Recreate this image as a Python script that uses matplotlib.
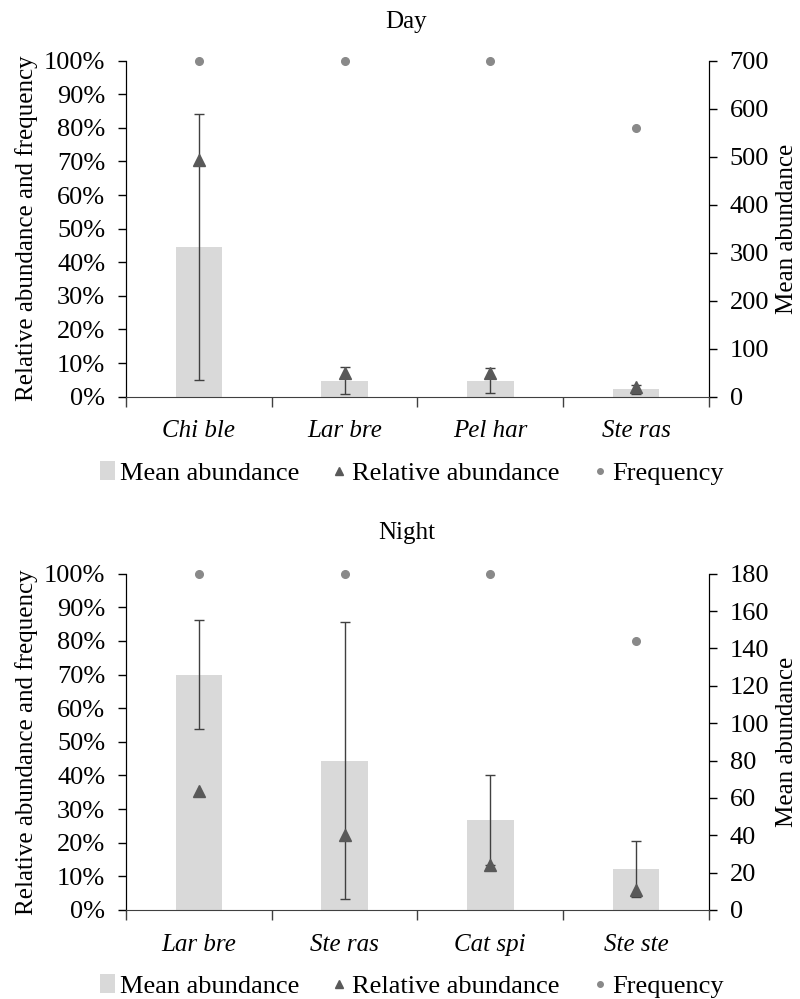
import matplotlib
matplotlib.use("Agg")
import matplotlib.pyplot as plt
from matplotlib.patches import Patch
from matplotlib.lines import Line2D
from matplotlib.ticker import PercentFormatter, MultipleLocator, FixedLocator
import numpy as np

plt.rcParams['font.family'] = ['Liberation Serif', 'DejaVu Serif']
plt.rcParams['font.size'] = 18

# Day panel
day_species = ['Chi ble', 'Lar bre', 'Pel har', 'Ste ras']
day_mean = [311, 33, 33, 15]
day_sd = [277, 28, 26, 10]
day_rel = [70.4, 7.1, 7.0, 3.0]
day_freq = [100, 100, 100, 80]

# Night panel
night_species = ['Lar bre', 'Ste ras', 'Cat spi', 'Ste ste']
night_mean = [126, 80, 48, 22]
night_sd = [29, 74, 24, 15]
night_rel = [35.5, 22.4, 13.3, 5.9]
night_freq = [100, 100, 100, 80]

BAR_C = '#d9d9d9'
TRI_C = '#595959'
DOT_C = '#898989'
ERR_C = '#404040'


def panel(rect, title, species, mean, sd, rel, freq, ymax2, step2, title_y, leg_y):
    ax = fig.add_axes(rect)
    ax2 = ax.twinx()
    ax.set_zorder(ax2.get_zorder() + 1)
    ax.patch.set_visible(False)

    x = np.arange(len(species))
    ax2.bar(x, mean, width=0.32, color=BAR_C, zorder=1)
    ax2.errorbar(x, mean, yerr=sd, fmt='none', ecolor=ERR_C, elinewidth=1,
                 capsize=3.5, capthick=1, zorder=2)
    ax.plot(x, rel, linestyle='none', marker='^', color=TRI_C, markersize=8,
            zorder=3, clip_on=False)
    ax.plot(x, freq, linestyle='none', marker='o', color=DOT_C, markersize=5.5,
            zorder=4, clip_on=False)

    ax.set_xlim(-0.5, len(species) - 0.5)
    ax.set_ylim(0, 100)
    ax.yaxis.set_major_locator(MultipleLocator(10))
    ax.yaxis.set_major_formatter(PercentFormatter(decimals=0))
    ax2.set_ylim(0, ymax2)
    ax2.yaxis.set_major_locator(MultipleLocator(step2))

    ax.set_xticks(x)
    ax.set_xticklabels(species, fontstyle='italic', fontsize=18)
    ax.xaxis.set_minor_locator(FixedLocator(np.arange(len(species) + 1) - 0.5))
    ax.tick_params(axis='x', which='major', length=0, pad=17)
    ax.tick_params(axis='x', which='minor', length=7, width=1, color=ERR_C, direction='out')
    ax.tick_params(axis='y', length=6, width=1, direction='out', pad=9, labelsize=19)
    ax2.tick_params(axis='y', length=6, width=1, direction='out', pad=9, labelsize=19)

    for a in (ax, ax2):
        a.spines['top'].set_visible(False)
    ax.spines['bottom'].set_color(ERR_C)
    ax2.spines['bottom'].set_visible(False)

    ax.set_ylabel('Relative abundance and frequency', labelpad=4)
    ax2.set_ylabel('Mean abundance', labelpad=5)

    fig.text(0.508, title_y, title, ha='center', va='center', fontsize=18)

    handles = [
        Patch(facecolor=BAR_C, edgecolor='none'),
        Line2D([], [], linestyle='none', marker='^', color=TRI_C, markersize=6),
        Line2D([], [], linestyle='none', marker='o', color=DOT_C, markersize=4),
    ]
    fig.legend(handles, ['Mean abundance', 'Relative abundance', 'Frequency'],
               loc='center', bbox_to_anchor=(0.515, leg_y), ncol=3, frameon=False,
               handlelength=0.55, handletextpad=0.2, columnspacing=1.25, fontsize=19)


fig = plt.figure(figsize=(8, 9.99), dpi=100)
panel([0.1575, 0.6029, 0.7285, 0.3365], 'Day', day_species, day_mean, day_sd,
      day_rel, day_freq, 700, 100, 1 - 22 / 999, 1 - 473 / 999)
panel([0.1575, 0.0891, 0.7285, 0.3366], 'Night', night_species, night_mean, night_sd,
      night_rel, night_freq, 180, 20, 1 - 533 / 999, 1 - 986 / 999)

fig.savefig('out.png', dpi=100)
